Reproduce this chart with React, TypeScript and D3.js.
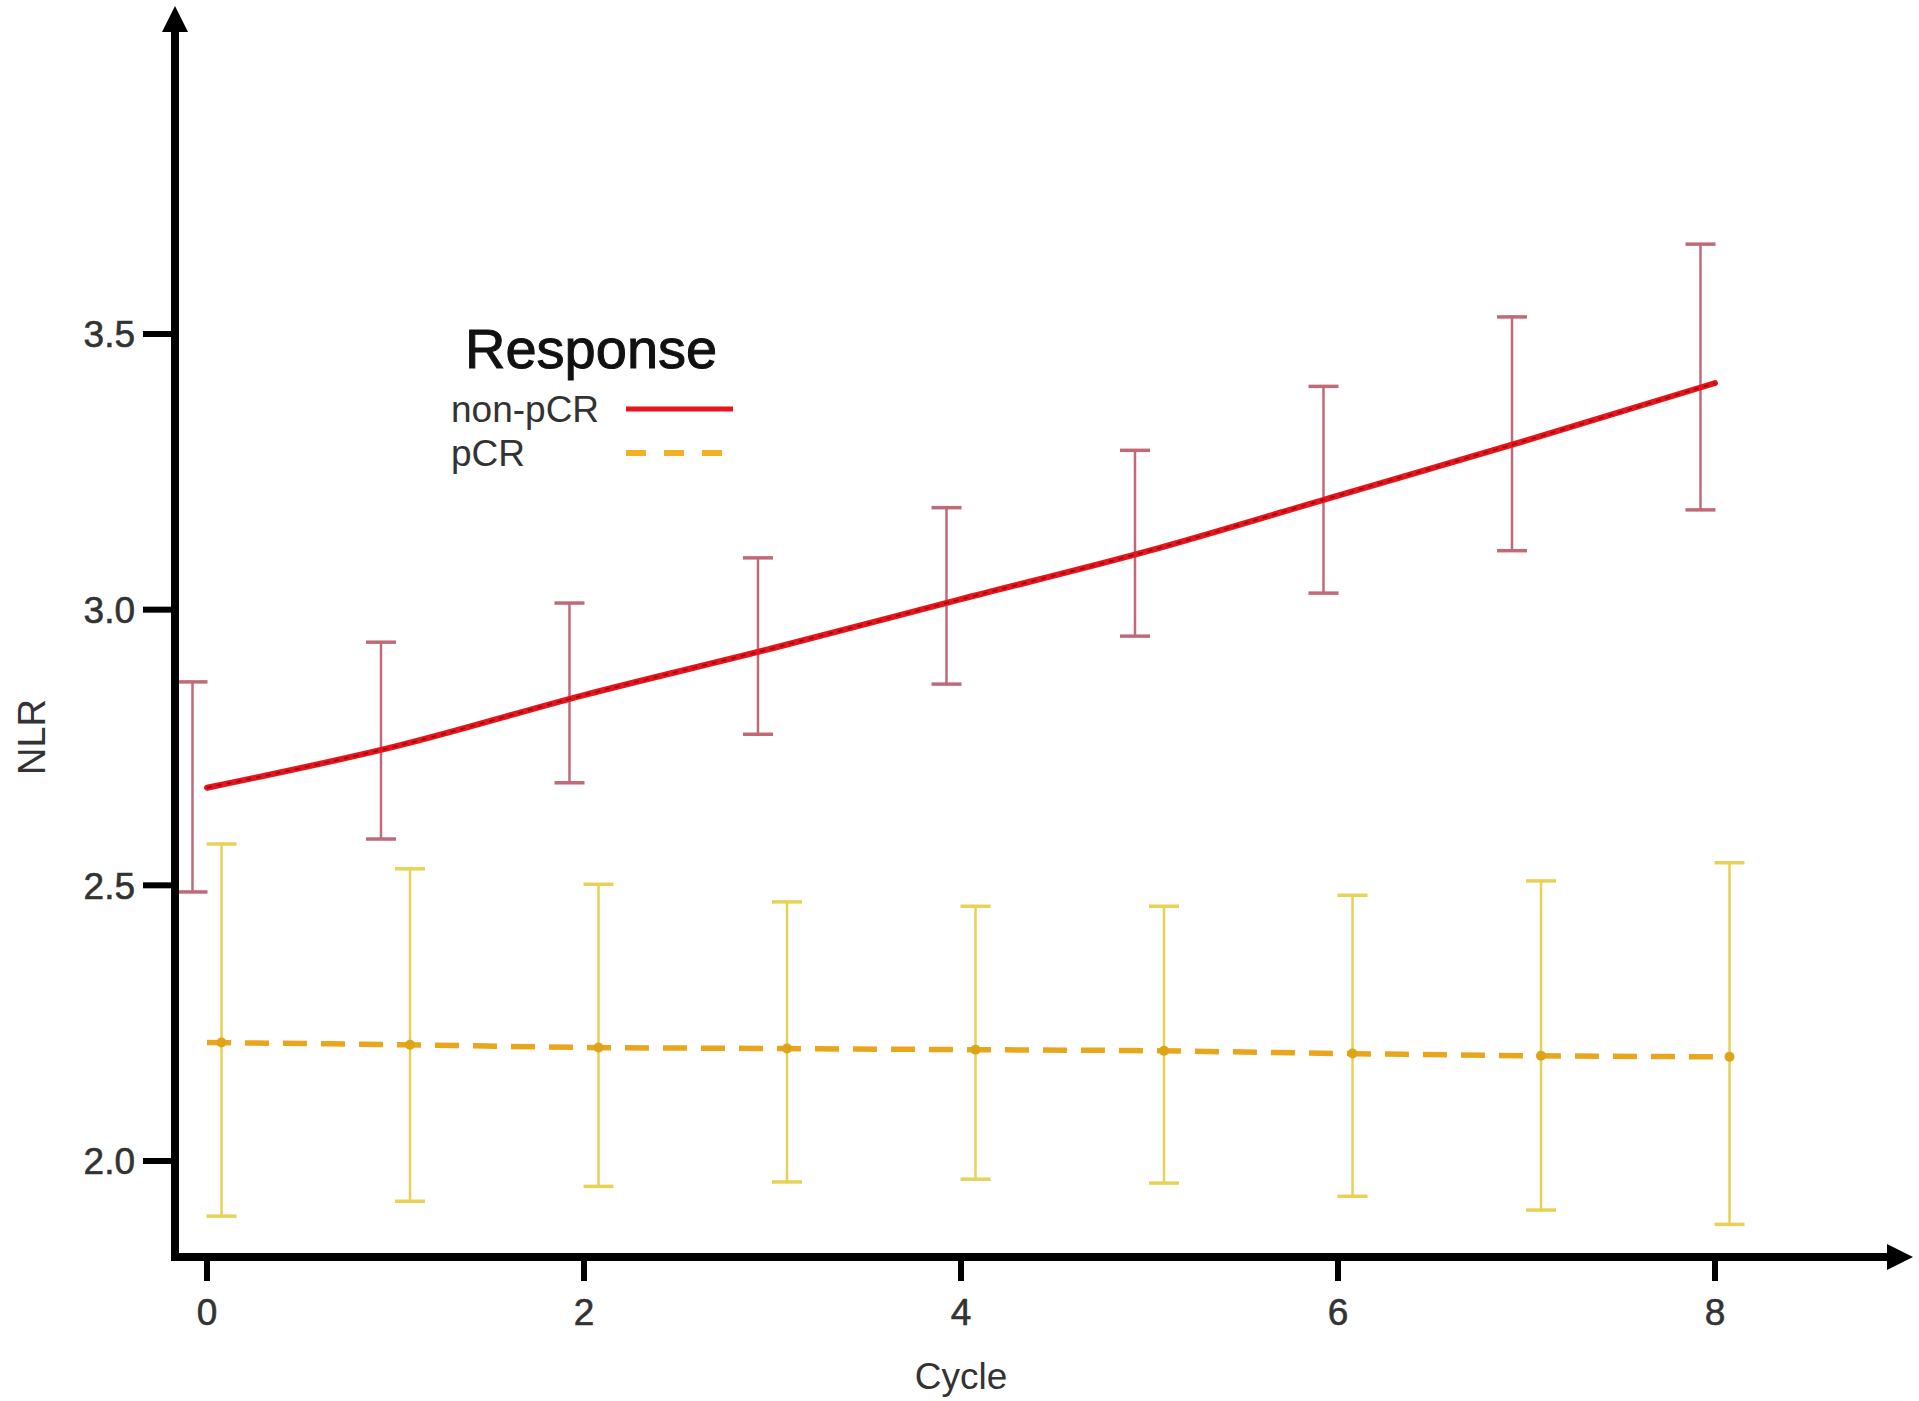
import { useEffect, useRef } from 'react';
import * as d3 from 'd3';

// cycles on the x axis
const cycles = [0, 1, 2, 3, 4, 5, 6, 7, 8];

// non-pCR: fitted mean and error bar limits
const nonPcrMean = [2.677, 2.752, 2.845, 2.930, 3.019, 3.107, 3.207, 3.307, 3.411];
const nonPcrUpper = [2.869, 2.941, 3.012, 3.094, 3.185, 3.289, 3.405, 3.531, 3.663];
const nonPcrLower = [2.488, 2.584, 2.686, 2.774, 2.865, 2.952, 3.030, 3.107, 3.181];

// pCR: fitted mean and error bar limits
const pcrMean = [2.215, 2.211, 2.206, 2.204, 2.202, 2.200, 2.195, 2.191, 2.189];
const pcrUpper = [2.575, 2.530, 2.502, 2.470, 2.462, 2.462, 2.482, 2.508, 2.541];
const pcrLower = [1.900, 1.927, 1.954, 1.962, 1.967, 1.960, 1.936, 1.911, 1.885];

const xTicks = [0, 2, 4, 6, 8];
const yTicks = [2.0, 2.5, 3.0, 3.5];

const legendTitle = 'Response';
const seriesNames = ['non-pCR', 'pCR'];

const width = 1919;
const height = 1401;

export default function App() {
  const svgRef = useRef<SVGSVGElement>(null);

  useEffect(() => {
    if (!svgRef.current) return;
    const svg = d3.select(svgRef.current);
    svg.selectAll('*').remove();

    const font = '"Liberation Sans", Arial, sans-serif';

    const x = d3.scaleLinear().domain([0, 8]).range([207, 1715]);
    const y = d3.scaleLinear().domain([2.0, 3.5]).range([1161, 334]);

    const axisX = 175;
    const axisY = 1257;
    const dodge = 0.077;

    // error bars
    const drawBars = (
      upper: number[],
      lower: number[],
      offset: number,
      color: string
    ) => {
      const g = svg.append('g');
      cycles.forEach((c, i) => {
        const cx = x(c + offset);
        g.append('line')
          .attr('x1', cx).attr('x2', cx)
          .attr('y1', y(upper[i])).attr('y2', y(lower[i]))
          .attr('stroke', color).attr('stroke-width', 2.5);
        [upper[i], lower[i]].forEach(v => {
          g.append('line')
            .attr('x1', cx - 15).attr('x2', cx + 15)
            .attr('y1', y(v)).attr('y2', y(v))
            .attr('stroke', color).attr('stroke-width', 3.5);
        });
      });
    };
    drawBars(nonPcrUpper, nonPcrLower, -dodge, '#c06a78');
    drawBars(pcrUpper, pcrLower, dodge, '#e8d256');

    const line = d3.line<number>()
      .x((_, i) => x(cycles[i]))
      .y(d => y(d))
      .curve(d3.curveMonotoneX);

    // pCR dashed line with dots
    svg.append('path')
      .datum(pcrMean)
      .attr('fill', 'none')
      .attr('stroke', '#e9a61c')
      .attr('stroke-width', 5.5)
      .attr('stroke-dasharray', '24,14')
      .attr('d', line);
    svg.append('g')
      .selectAll('circle')
      .data(pcrMean)
      .enter().append('circle')
      .attr('cx', (_, i) => x(cycles[i] + dodge))
      .attr('cy', d => y(d))
      .attr('r', 5)
      .attr('fill', '#dda41a');

    // non-pCR solid line
    svg.append('path')
      .datum(nonPcrMean)
      .attr('fill', 'none')
      .attr('stroke', '#e8141c')
      .attr('stroke-width', 6)
      .attr('stroke-linecap', 'round')
      .attr('d', line);
    svg.append('path')
      .datum(nonPcrMean)
      .attr('fill', 'none')
      .attr('stroke', '#5a0a0a')
      .attr('stroke-opacity', 0.6)
      .attr('stroke-width', 1.8)
      .attr('stroke-dasharray', '5,5')
      .attr('d', line);

    // axes
    const axes = svg.append('g');
    axes.append('line')
      .attr('x1', axisX).attr('x2', axisX)
      .attr('y1', 26).attr('y2', axisY + 4)
      .attr('stroke', '#000').attr('stroke-width', 8);
    axes.append('path')
      .attr('d', `M${axisX},6 L${axisX - 13},32 L${axisX + 13},32 Z`)
      .attr('fill', '#000');
    axes.append('line')
      .attr('x1', axisX - 4).attr('x2', 1893)
      .attr('y1', axisY).attr('y2', axisY)
      .attr('stroke', '#000').attr('stroke-width', 8);
    axes.append('path')
      .attr('d', `M1913,${axisY} L1887,${axisY - 13} L1887,${axisY + 13} Z`)
      .attr('fill', '#000');

    yTicks.forEach(t => {
      axes.append('line')
        .attr('x1', axisX - 32).attr('x2', axisX)
        .attr('y1', y(t)).attr('y2', y(t))
        .attr('stroke', '#000').attr('stroke-width', 6);
      axes.append('text')
        .attr('x', axisX - 40).attr('y', y(t))
        .attr('dy', '0.36em')
        .attr('text-anchor', 'end')
        .attr('font-family', font)
        .attr('font-size', 37)
        .attr('fill', '#333')
        .attr('stroke', '#333')
        .attr('stroke-width', 0.6)
        .text(t.toFixed(1));
    });

    xTicks.forEach(t => {
      axes.append('line')
        .attr('x1', x(t)).attr('x2', x(t))
        .attr('y1', axisY).attr('y2', axisY + 24)
        .attr('stroke', '#000').attr('stroke-width', 6);
      axes.append('text')
        .attr('x', x(t)).attr('y', axisY + 68)
        .attr('text-anchor', 'middle')
        .attr('font-family', font)
        .attr('font-size', 37)
        .attr('fill', '#333')
        .attr('stroke', '#333')
        .attr('stroke-width', 0.6)
        .text(String(t));
    });

    // axis titles
    svg.append('text')
      .attr('transform', `translate(45,${737}) rotate(-90)`)
      .attr('text-anchor', 'middle')
      .attr('font-family', font)
      .attr('font-size', 38)
      .attr('fill', '#333')
      .text('NLR');
    svg.append('text')
      .attr('x', x(4)).attr('y', 1389)
      .attr('text-anchor', 'middle')
      .attr('font-family', font)
      .attr('font-size', 37)
      .attr('fill', '#333')
      .text('Cycle');

    // legend
    const legend = svg.append('g');
    legend.append('text')
      .attr('x', 465).attr('y', 368)
      .attr('font-family', font)
      .attr('font-size', 56)
      .attr('fill', '#111')
      .attr('stroke', '#111')
      .attr('stroke-width', 1)
      .text(legendTitle);
    legend.append('text')
      .attr('x', 451).attr('y', 422)
      .attr('font-family', font)
      .attr('font-size', 37)
      .attr('fill', '#333')
      .text(seriesNames[0]);
    legend.append('text')
      .attr('x', 451).attr('y', 466)
      .attr('font-family', font)
      .attr('font-size', 37)
      .attr('fill', '#333')
      .text(seriesNames[1]);
    legend.append('line')
      .attr('x1', 626).attr('x2', 733)
      .attr('y1', 409).attr('y2', 409)
      .attr('stroke', '#e8141c').attr('stroke-width', 5);
    legend.append('line')
      .attr('x1', 626).attr('x2', 726)
      .attr('y1', 453).attr('y2', 453)
      .attr('stroke', '#f2b024').attr('stroke-width', 6)
      .attr('stroke-dasharray', '20,18');
  }, []);

  return (
    <div style={{ position: 'absolute', left: 0, top: 0, background: '#fff' }}>
      <svg ref={svgRef} width={width} height={height} style={{ display: 'block' }} />
    </div>
  );
}
